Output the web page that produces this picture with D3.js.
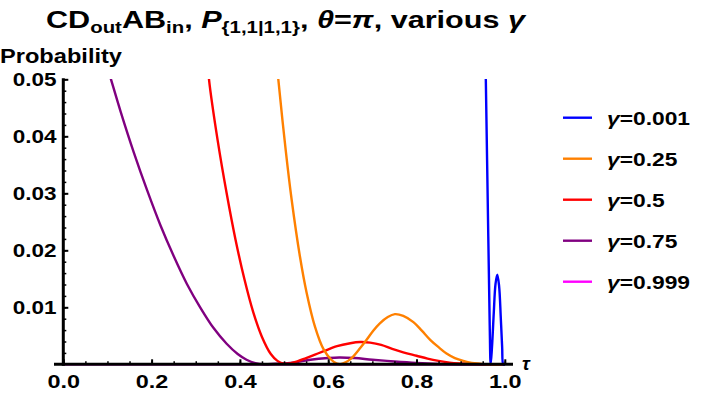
<!DOCTYPE html>
<html>
<head>
<meta charset="utf-8">
<script src="https://cdn.jsdelivr.net/npm/d3@7"></script>
<style>
    body { margin: 0; background: #fff; }
    svg text { font-family: "Liberation Sans", Arial, sans-serif; font-weight: bold; }
</style>
</head>
<body>
<div id="wrapper"></div>
<script>
// values (tau, probability)
let gammaLabels = ["0.001", "0.25", "0.5", "0.75", "0.999"];
let colors = ["#0000ff", "#ff8000", "#ff0000", "#800080", "#ff00ff"];

let tauBlue = [0.954, 0.957, 0.9626, 0.966, 0.968, 0.971, 0.975, 0.979, 0.983, 0.987, 0.991, 0.994, 0.9966, 1.0];
let probBlue = [0.064, 0.05, 0.0224, 0.006, 0.0, 0.003, 0.009, 0.0141, 0.0157, 0.0138, 0.008, 0.003, 0.0, 0.0];

let tauOrange = [0.484, 0.487, 0.504, 0.517, 0.536, 0.551, 0.570, 0.589, 0.607, 0.62, 0.627, 0.635, 0.645, 0.657, 0.672, 0.687, 0.702, 0.717, 0.735, 0.751, 0.77, 0.793, 0.812, 0.831, 0.85, 0.868, 0.887, 0.906, 0.925, 0.944, 0.96, 1.0];
let probOrange = [0.053, 0.05, 0.0374, 0.029, 0.0189, 0.0126, 0.0066, 0.0027, 0.0008, 0.0001, 0.0, 0.0002, 0.0006, 0.0014, 0.0028, 0.0043, 0.0059, 0.0072, 0.0083, 0.0088, 0.0085, 0.0074, 0.0059, 0.0043, 0.003, 0.0019, 0.0011, 0.0006, 0.00025, 0.0001, 0.0, 0.0];

let tauRed = [0.327, 0.33, 0.35, 0.37, 0.39, 0.41, 0.43, 0.45, 0.47, 0.485, 0.5, 0.515, 0.53, 0.55, 0.57, 0.59, 0.62, 0.65, 0.672, 0.695, 0.72, 0.745, 0.77, 0.80, 0.825, 0.85, 0.875, 0.9, 0.93, 0.96, 1.0];
let probRed = [0.053, 0.05, 0.0391, 0.030, 0.0219, 0.015, 0.0092, 0.0048, 0.0018, 0.0006, 0.0001, 0.0002, 0.0005, 0.0011, 0.0017, 0.0023, 0.0032, 0.0037, 0.0039, 0.0038, 0.0034, 0.0027, 0.0021, 0.0015, 0.001, 0.0006, 0.0003, 0.00015, 0.00005, 0.0, 0.0];

let tauPurple = [0.1, 0.108, 0.13, 0.16, 0.19, 0.22, 0.25, 0.28, 0.31, 0.34, 0.37, 0.395, 0.415, 0.435, 0.455, 0.48, 0.52, 0.56, 0.6, 0.625, 0.66, 0.7, 0.75, 0.8, 0.85, 0.9, 1.0];
let probPurple = [0.0521, 0.05, 0.0443, 0.0371, 0.0305, 0.0244, 0.019, 0.0141, 0.01, 0.0064, 0.0036, 0.0018, 0.0008, 0.0002, 0.0, 0.0001, 0.0003, 0.0008, 0.0011, 0.0012, 0.0011, 0.0008, 0.0005, 0.00025, 0.00008, 0.0, 0.0];

let tauMagenta = [0.0, 1.0];
let probMagenta = [0.0, 0.0];

let xTicks = [0, 0.2, 0.4, 0.6, 0.8, 1.0];
let yTicks = [0.01, 0.02, 0.03, 0.04, 0.05];

let series = [
    { tau: tauBlue, prob: probBlue },
    { tau: tauOrange, prob: probOrange },
    { tau: tauRed, prob: probRed },
    { tau: tauPurple, prob: probPurple },
    { tau: tauMagenta, prob: probMagenta }
];

let wSvg = 701;
let hSvg = 399;

let svg = d3.select("#wrapper")
    .append("svg")
    .attr("width", wSvg)
    .attr("height", hSvg);

let xScale = d3.scaleLinear().domain([0, 1]).range([63.3, 504.8]);
let yScale = d3.scaleLinear().domain([0, 0.05]).range([364.3, 79.3]);

svg.append("clipPath")
    .attr("id", "plotClip")
    .append("rect")
    .attr("x", 60)
    .attr("y", 79)
    .attr("width", 460)
    .attr("height", 287);

let line = d3.line()
    .x(d => xScale(d[0]))
    .y(d => yScale(d[1]))
    .curve(d3.curveCatmullRom.alpha(0.5));

// magenta drawn first so the other curves sit over it
let order = [4, 3, 2, 1, 0];
order.forEach(i => {
    let s = series[i];
    let pts = s.tau.map((t, j) => [t, s.prob[j]]);
    svg.append("path")
        .attr("clip-path", "url(#plotClip)")
        .attr("d", line(pts))
        .attr("fill", "none")
        .attr("stroke", colors[i])
        .attr("stroke-width", 2.4);
});

// x axis
let xMinor = d3.range(0, 1.001, 0.05);
svg.append("g")
    .attr("transform", `translate(0,${yScale(0)})`)
    .call(d3.axisBottom(xScale).tickValues(xMinor).tickSizeInner(-3).tickSizeOuter(0).tickFormat(""))
    .call(g => g.select(".domain").remove())
    .call(g => g.selectAll("line").attr("stroke", "#000").attr("stroke-width", 1.5));

let xAxis = svg.append("g")
    .attr("transform", `translate(0,${yScale(0)})`)
    .call(d3.axisBottom(xScale).tickValues(xTicks).tickSizeInner(-5).tickSizeOuter(0).tickFormat(d3.format(".1f")))
    .call(g => g.select(".domain").remove())
    .call(g => g.selectAll("line").attr("stroke", "#000").attr("stroke-width", 2));
xAxis.selectAll("text")
    .attr("y", 0)
    .attr("dy", "24")
    .attr("fill", "#000")
    .style("font-size", "18px")
    .attr("transform", "scale(1.3,1)");

svg.append("line")
    .attr("x1", 54).attr("x2", 513)
    .attr("y1", yScale(0)).attr("y2", yScale(0))
    .attr("stroke", "#000").attr("stroke-width", 3);

// y axis
let yMinor = d3.range(0.002, 0.0501, 0.002);
svg.append("g")
    .attr("transform", `translate(${xScale(0)},0)`)
    .call(d3.axisLeft(yScale).tickValues(yMinor).tickSizeInner(-3).tickSizeOuter(0).tickFormat(""))
    .call(g => g.select(".domain").remove())
    .call(g => g.selectAll("line").attr("stroke", "#000").attr("stroke-width", 1.5));

let yAxis = svg.append("g")
    .attr("transform", `translate(${xScale(0)},0)`)
    .call(d3.axisLeft(yScale).tickValues(yTicks).tickSizeInner(-5).tickSizeOuter(0).tickFormat(d3.format(".2f")))
    .call(g => g.select(".domain").remove())
    .call(g => g.selectAll("line").attr("stroke", "#000").attr("stroke-width", 2));
yAxis.selectAll("text")
    .attr("x", -5.5)
    .attr("dy", "0.36em")
    .attr("fill", "#000")
    .style("font-size", "18px")
    .attr("transform", "scale(1.25,1)");

svg.append("line")
    .attr("x1", xScale(0)).attr("x2", xScale(0))
    .attr("y1", yScale(0.05) - 1).attr("y2", yScale(0) + 1.5)
    .attr("stroke", "#000").attr("stroke-width", 3);

// axis labels
svg.append("text")
    .attr("x", 0).attr("y", 63)
    .style("font-size", "20px")
    .attr("textLength", 122)
    .attr("lengthAdjust", "spacingAndGlyphs")
    .text("Probability");

svg.append("text")
    .attr("x", 522).attr("y", 370)
    .style("font-size", "19px")
    .style("font-style", "italic")
    .text("τ");

// title
let title = svg.append("text")
    .attr("x", 46).attr("y", 28)
    .style("font-size", "24px")
    .attr("textLength", 479)
    .attr("lengthAdjust", "spacingAndGlyphs");
title.append("tspan").text("CD");
title.append("tspan").attr("dy", 5).style("font-size", "16px").text("out");
title.append("tspan").attr("dy", -5).text("AB");
title.append("tspan").attr("dy", 5).style("font-size", "16px").text("in");
title.append("tspan").attr("dy", -5).text(", ");
title.append("tspan").style("font-style", "italic").text("P");
title.append("tspan").attr("dy", 5).style("font-size", "16px").text("{1,1|1,1}");
title.append("tspan").attr("dy", -5).text(", ");
title.append("tspan").style("font-style", "italic").text("θ");
title.append("tspan").text("=");
title.append("tspan").style("font-style", "italic").text("π");
title.append("tspan").text(", various ");
title.append("tspan").style("font-style", "italic").text("γ");

// legend
let legendY = d3.scaleLinear().domain([0, 4]).range([117.7, 281.7]);
gammaLabels.forEach((g, i) => {
    svg.append("line")
        .attr("x1", 563).attr("x2", 592)
        .attr("y1", legendY(i)).attr("y2", legendY(i))
        .attr("stroke", colors[i])
        .attr("stroke-width", 2.4);
    let t = svg.append("text")
        .attr("transform", `translate(607,${legendY(i) + 7}) scale(1.2,1)`)
        .style("font-size", "19px");
    t.append("tspan").style("font-style", "italic").text("γ");
    t.append("tspan").text("=" + g);
});
</script>
</body>
</html>
